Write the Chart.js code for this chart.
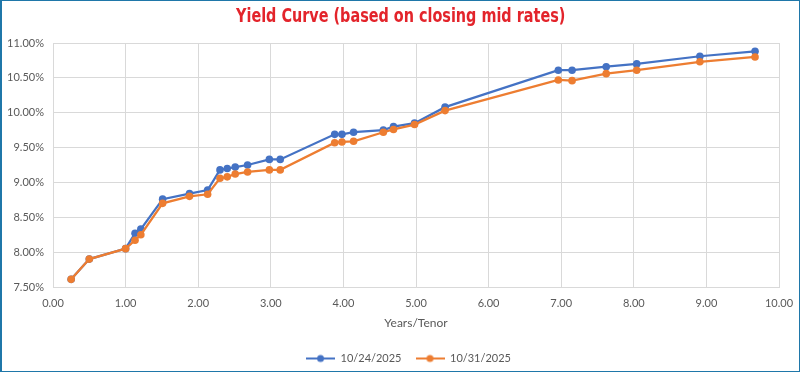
<!DOCTYPE html>
<html>
<head>
<meta charset="utf-8">
<script src="https://cdn.jsdelivr.net/npm/chart.js@4/dist/chart.umd.min.js"></script>
<style>
    html, body { margin: 0; padding: 0; background: #fff; }
    #wrap { position: relative; width: 800px; height: 372px; box-sizing: border-box; border: 1px solid #1f77a9; border-left-width: 2px; }
    canvas { display: block; }
    #title {
        position: absolute; left: 0; top: 2px; width: 797px; text-align: center;
        font-family: 'Liberation Sans Narrow', 'DejaVu Sans Condensed', sans-serif;
        font-weight: bold; font-size: 20px; line-height: 24px; color: #e3242b; white-space: nowrap;
    }
    #title span { display: inline-block; transform-origin: center; }
</style>
</head>
<body>
<div id="wrap">
    <div id="title"><span>Yield Curve (based on closing mid rates)</span></div>
    <canvas id="yieldChart" width="797" height="370"></canvas>
</div>
<script>
    // tenor in years (shared by both curves)
    const tenorYears = [0.25, 0.5, 1.0, 1.13, 1.21, 1.51, 1.88, 2.13, 2.30, 2.40, 2.51, 2.68, 2.98, 3.13,
        3.88, 3.98, 4.14, 4.55, 4.69, 4.98, 5.40, 6.96, 7.15, 7.62, 8.04, 8.91, 9.67];
    const yield1024 = [7.61, 7.90, 8.05, 8.27, 8.33, 8.76, 8.84, 8.89, 9.18, 9.20, 9.22, 9.25, 9.33, 9.33,
        9.69, 9.69, 9.72, 9.75, 9.80, 9.85, 10.08, 10.61, 10.61, 10.66, 10.70, 10.81, 10.88];
    const yield1031 = [7.61, 7.90, 8.05, 8.17, 8.25, 8.70, 8.80, 8.83, 9.06, 9.08, 9.12, 9.15, 9.18, 9.18,
        9.57, 9.58, 9.59, 9.72, 9.76, 9.83, 10.03, 10.47, 10.46, 10.56, 10.61, 10.73, 10.80];
    const seriesLabels = ['10/24/2025', '10/31/2025'];

    const BLUE = '#4472c4';
    const ORANGE = '#ed7d31';
    const TICK_COLOR = '#595959';
    const GRID_COLOR = '#d9d9d9';

    // squeeze the title to the narrow look of the original
    const titleSpan = document.querySelector('#title span');
    titleSpan.style.transform = 'scaleX(' + (329 / titleSpan.offsetWidth) + ')';

    function toPoints(ys) {
        return tenorYears.map(function (x, i) { return { x: x, y: ys[i] }; });
    }

    // little "line with dot" marker for the legend
    function legendMarker(color) {
        const c = document.createElement('canvas');
        c.width = 29;
        c.height = 10;
        const ctx = c.getContext('2d');
        ctx.strokeStyle = color;
        ctx.lineWidth = 2;
        ctx.beginPath();
        ctx.moveTo(0, 5);
        ctx.lineTo(29, 5);
        ctx.stroke();
        ctx.fillStyle = color;
        ctx.beginPath();
        ctx.arc(14.5, 5, 3.5, 0, Math.PI * 2);
        ctx.fill();
        return c;
    }

    const markers = [legendMarker(BLUE), legendMarker(ORANGE)];

    // the legend in the original sits a bit right of centre and lower
    const legendShift = {
        id: 'legendShift',
        afterLayout: function (chart) {
            chart.legend.left += 18;
            chart.legend.right += 18;
            chart.legend.top += 3;
            chart.legend.bottom += 3;
        }
    };

    new Chart(document.getElementById('yieldChart'), {
        type: 'line',
        data: {
            datasets: [
                {
                    label: seriesLabels[0],
                    data: toPoints(yield1024),
                    borderColor: BLUE,
                    backgroundColor: BLUE,
                    borderWidth: 2.25,
                    pointRadius: 3.8,
                    pointBorderWidth: 0,
                    tension: 0,
                    order: 1
                },
                {
                    label: seriesLabels[1],
                    data: toPoints(yield1031),
                    borderColor: ORANGE,
                    backgroundColor: ORANGE,
                    borderWidth: 2.25,
                    pointRadius: 3.8,
                    pointBorderWidth: 0,
                    tension: 0,
                    order: 0
                }
            ]
        },
        plugins: [legendShift],
        options: {
            responsive: false,
            animation: false,
            devicePixelRatio: 1,
            layout: { padding: { left: 0, right: 20, top: 42, bottom: 0 } },
            plugins: {
                title: { display: false },
                legend: {
                    position: 'bottom',
                    labels: {
                        color: TICK_COLOR,
                        font: { family: 'Lato', size: 11 },
                        usePointStyle: true,
                        pointStyleWidth: 29,
                        boxHeight: 10,
                        padding: 14,
                        generateLabels: function (chart) {
                            return chart.data.datasets.map(function (ds, i) {
                                return {
                                    text: ds.label,
                                    pointStyle: markers[i],
                                    fillStyle: ds.borderColor,
                                    strokeStyle: ds.borderColor,
                                    fontColor: TICK_COLOR,
                                    lineWidth: 0,
                                    hidden: false,
                                    datasetIndex: i
                                };
                            });
                        }
                    }
                },
                tooltip: { enabled: false }
            },
            scales: {
                x: {
                    type: 'linear',
                    min: 0,
                    max: 10,
                    ticks: {
                        stepSize: 1,
                        color: TICK_COLOR,
                        font: { family: 'Lato', size: 11 },
                        padding: 10,
                        callback: function (v) { return v.toFixed(2); }
                    },
                    grid: { color: GRID_COLOR, drawTicks: false },
                    border: { color: GRID_COLOR },
                    title: {
                        display: true,
                        text: 'Years/Tenor',
                        color: TICK_COLOR,
                        font: { family: 'Lato', size: 12 },
                        padding: { top: 2, bottom: 6 }
                    },
                    afterFit: function (scale) {
                        scale.height = 49;
                        scale.paddingLeft = 0;
                        scale.paddingRight = 0;
                    }
                },
                y: {
                    min: 7.5,
                    max: 11,
                    ticks: {
                        stepSize: 0.5,
                        color: TICK_COLOR,
                        font: { family: 'Lato', size: 11 },
                        padding: 9,
                        callback: function (v) { return v.toFixed(2) + '%'; }
                    },
                    grid: { color: GRID_COLOR, drawTicks: false },
                    border: { color: GRID_COLOR },
                    afterFit: function (scale) {
                        scale.width = 51;
                        scale.paddingTop = 0;
                        scale.paddingBottom = 0;
                    }
                }
            }
        }
    });
</script>
</body>
</html>
